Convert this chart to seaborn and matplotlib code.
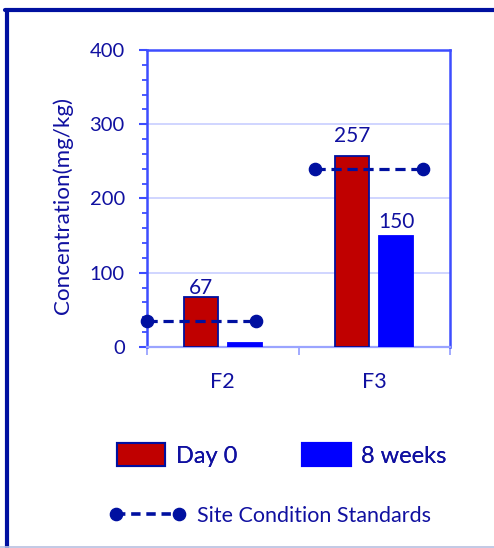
import matplotlib
matplotlib.use("Agg")
import matplotlib.pyplot as plt
import seaborn as sns
import pandas as pd
from matplotlib.lines import Line2D
from matplotlib.patches import Patch
from matplotlib.ticker import MultipleLocator, FixedLocator

# --- data ---------------------------------------------------------------
sites = ["F2", "F3"]
periods = ["Day 0", "8 weeks"]
day0 = [67, 257]
week8 = [5, 150]
standards = [35, 240]

df = pd.DataFrame({
    "site": sites * 2,
    "period": [periods[0]] * len(sites) + [periods[1]] * len(sites),
    "conc": day0 + week8,
})

# --- style --------------------------------------------------------------
sns.set_theme(style="white")
plt.rcParams["font.family"] = ["Lato", "DejaVu Sans"]

TXT = "#1010A0"
DARK = "#0010A0"
SPINE = "#3D4DFF"
RED = "#C00000"
BLUE = "#0000FF"

fig = plt.figure(figsize=(4.94, 5.48), dpi=100)
ax = fig.add_axes([0.2976, 0.3668, 0.6134, 0.542])

sns.barplot(data=df, x="site", y="conc", hue="period", order=sites,
            hue_order=periods, palette=[RED, BLUE], width=0.585, gap=0.23,
            saturation=1, legend=False, ax=ax, zorder=3)
for patch, ec in zip(ax.patches, [DARK, DARK, BLUE, BLUE]):
    patch.set_edgecolor(ec)
    patch.set_linewidth(1.3)

# value labels (the small F2 8-week bar carries none)
label_sets = [
    (ax.containers[0], [str(v) for v in day0], [-0.6, 7.0]),
    (ax.containers[1], [""] + [str(v) for v in week8[1:]], [2.0, 2.9]),
]
for container, labels, pads in label_sets:
    for bar, text, pad in zip(container, labels, pads):
        if not text:
            continue
        ax.annotate(text, (bar.get_x() + bar.get_width() / 2, bar.get_height()),
                    xytext=(0, pad), textcoords="offset points",
                    ha="center", va="bottom", color=TXT, fontsize=15)

# site condition standard lines
spans = [(-0.5, 0.22), (-0.39, 0.32)]
for i, (val, (a, b)) in enumerate(zip(standards, spans)):
    ax.plot([i + a, i + b], [val, val], color=DARK, lw=2.3,
            dashes=(3.2, 1.8), marker="o", ms=8.8, clip_on=False, zorder=5)

# --- axes ---------------------------------------------------------------
ax.set_xlim(-0.5, 1.5)
ax.set_ylim(0, 400)
ax.yaxis.set_major_locator(MultipleLocator(100))
ax.yaxis.set_minor_locator(MultipleLocator(20))
ax.xaxis.set_minor_locator(FixedLocator([-0.5, 0.5, 1.5]))
ax.grid(axis="y", which="major", color="#C8CEFF", lw=1.2, zorder=0)
ax.grid(axis="x", visible=False)

for side in ["left", "top", "right"]:
    ax.spines[side].set_color(SPINE)
    ax.spines[side].set_linewidth(1.8)
ax.spines["bottom"].set_color("#9AA4FF")
ax.spines["bottom"].set_linewidth(1.6)

ax.tick_params(axis="y", which="major", direction="out", length=6,
               width=1.5, color=SPINE, labelcolor=TXT, labelsize=14.5, pad=10,
               left=True)
ax.tick_params(axis="y", which="minor", direction="out", length=3.5,
               width=1.3, color=SPINE, left=True)
ax.tick_params(axis="x", which="major", length=0, labelcolor=TXT,
               labelsize=15.5, pad=18)
ax.tick_params(axis="x", which="minor", direction="out", length=6,
               width=1.3, color="#9AA4FF", bottom=True)

ax.set_xlabel("")
ax.set_ylabel("Concentration(mg/kg)", color=TXT, fontsize=16.1)
ax.yaxis.set_label_coords(-0.243, 0.478)

# --- legends ------------------------------------------------------------
bar_handles = [Patch(facecolor=RED, edgecolor=DARK, lw=1.5),
               Patch(facecolor=BLUE, edgecolor=BLUE, lw=1.5)]
leg1 = fig.legend(bar_handles, periods, loc="center left",
                  bbox_to_anchor=(117 / 494, 1 - 455 / 548), ncol=2,
                  frameon=False, fontsize=17, labelcolor=TXT,
                  handlelength=2.05, handleheight=1.1, handletextpad=0.45,
                  columnspacing=2.75, borderpad=0, borderaxespad=0)
std_handle = Line2D([], [], color=DARK, lw=2.6, dashes=(2.6, 1.6),
                    marker="o", ms=8.8)
leg2 = fig.legend([std_handle], ["Site Condition Standards"],
                  loc="center left", bbox_to_anchor=(110 / 494, 1 - 516 / 548),
                  frameon=False, fontsize=15.5, labelcolor=TXT, numpoints=2,
                  handlelength=3.5, handletextpad=0.55, borderpad=0,
                  borderaxespad=0)
fig.add_artist(leg1)

# --- outer frame --------------------------------------------------------
fig.add_artist(Line2D([5 / 494, 1.0], [1 - 9.5 / 548] * 2,
                      transform=fig.transFigure, color=DARK, lw=3.0))
fig.add_artist(Line2D([7 / 494] * 2, [1 - 9.5 / 548, 0.0],
                      transform=fig.transFigure, color=DARK, lw=3.0))
fig.add_artist(Line2D([0, 1], [1.5 / 548] * 2,
                      transform=fig.transFigure, color="#B8C0E0", lw=1.2))

fig.savefig("out.png", dpi=100)
